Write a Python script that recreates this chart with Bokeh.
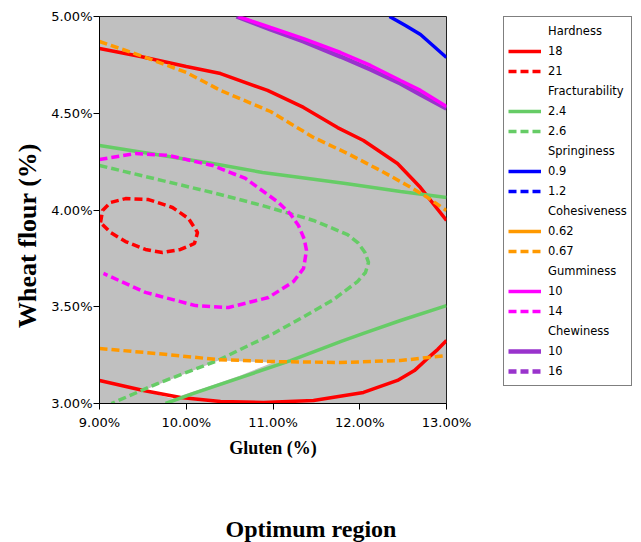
import math
from bokeh.plotting import figure
from bokeh.layouts import row, column
from bokeh.models import (Legend, LegendItem, FixedTicker, PrintfTickFormatter,
                          Range1d, Label)
from bokeh.embed import file_html
from bokeh.resources import INLINE

NAN = float("nan")

# ---------------- data (Gluten %, Wheat flour %) ----------------
x_ticks = [9.0, 10.0, 11.0, 12.0, 13.0]
y_ticks = [3.0, 3.5, 4.0, 4.5, 5.0]

# Hardness = 18 (two branches)
hard18_a_x = [9.0, 9.473, 10.0, 10.395, 10.937, 11.352, 11.744, 12.043, 12.435, 12.700, 13.0]
hard18_a_y = [4.835, 4.793, 4.742, 4.705, 4.618, 4.530, 4.426, 4.359, 4.240, 4.116, 3.946]
hard18_b_x = [9.0, 9.507, 9.934, 10.395, 10.890, 11.467, 12.043, 12.435, 12.630, 12.781, 12.900, 13.0]
hard18_b_y = [3.119, 3.067, 3.031, 3.010, 3.005, 3.016, 3.057, 3.119, 3.170, 3.233, 3.280, 3.326]
# Hardness = 21 (closed loop)
hard21_x = [9.012, 9.035, 9.127, 9.300, 9.565, 9.841, 10.026, 10.130, 10.095, 9.934,
            9.726, 9.530, 9.300, 9.127, 9.012]
hard21_y = [3.935, 3.997, 4.039, 4.059, 4.054, 4.013, 3.956, 3.884, 3.827, 3.796,
            3.780, 3.796, 3.837, 3.884, 3.935]

# Fracturability = 2.4 (two branches)
frac24_a_x = [9.0, 9.726, 10.303, 10.879, 11.317, 11.836, 12.470, 13.0]
frac24_a_y = [4.333, 4.282, 4.240, 4.194, 4.168, 4.137, 4.096, 4.065]
frac24_b_x = [9.761, 10.084, 10.625, 11.202, 11.778, 12.043, 12.470, 13.0]
frac24_b_y = [3.0, 3.052, 3.134, 3.222, 3.320, 3.362, 3.429, 3.506]
# Fracturability = 2.6
frac26_x = [9.0, 9.726, 10.303, 10.879, 11.467, 11.859, 11.980, 12.060, 12.101, 12.066,
            11.974, 11.697, 11.317, 11.006, 10.360, 9.669, 9.138]
frac26_y = [4.230, 4.152, 4.090, 4.023, 3.946, 3.873, 3.830, 3.780, 3.729, 3.677,
            3.630, 3.537, 3.439, 3.362, 3.222, 3.103, 3.0]

# Springiness = 0.9 (1.2 lies outside the plotted region)
spring09_x = [12.343, 12.527, 12.700, 13.0]
spring09_y = [5.0, 4.953, 4.907, 4.788]

# Cohesiveness = 0.67 two branches (0.62 lies outside the plotted region)
cohes067_a_x = [9.0, 9.473, 10.0, 10.395, 10.971, 11.467, 11.859, 12.239, 12.550, 12.781, 13.0]
cohes067_a_y = [4.871, 4.798, 4.711, 4.618, 4.509, 4.375, 4.292, 4.204, 4.127, 4.065, 3.997]
cohes067_b_x = [9.0, 9.669, 10.360, 10.971, 11.778, 12.470, 13.0]
cohes067_b_y = [3.284, 3.258, 3.227, 3.217, 3.212, 3.222, 3.248]

# Gumminess = 10 and 14
gum10_x = [10.602, 10.971, 11.352, 11.778, 12.124, 12.470, 12.700, 13.0]
gum10_y = [5.0, 4.943, 4.886, 4.814, 4.747, 4.669, 4.618, 4.535]
gum14_x = [9.0, 9.415, 9.795, 10.303, 10.683, 11.063, 11.200, 11.294, 11.360, 11.386, 11.352,
           11.236, 10.948, 10.487, 10.107, 9.530, 9.046]
gum14_y = [4.261, 4.292, 4.282, 4.230, 4.163, 4.039, 3.980, 3.920, 3.850, 3.791, 3.698,
           3.630, 3.548, 3.496, 3.506, 3.574, 3.672]

# Chewiness = 10 (16 lies outside the plotted region)
chew10_x = [10.579, 10.971, 11.352, 11.778, 12.124, 12.470, 12.700, 13.0]
chew10_y = [5.0, 4.933, 4.871, 4.793, 4.726, 4.654, 4.597, 4.525]

# Optimum (overlaid white) region
opt_x = [9.507, 9.934, 10.372, 10.683, 11.0, 10.625, 10.222, 9.841, 9.703]
opt_y = [3.067, 3.145, 3.222, 3.217, 3.212, 3.145, 3.083, 3.026, 3.041]

# legend: (group, [(level label, colour key, dashed?)])
legend_groups = [
    ("Hardness", [("18", "red", False), ("21", "red", True)]),
    ("Fracturability", [("2.4", "green", False), ("2.6", "green", True)]),
    ("Springiness", [("0.9", "blue", False), ("1.2", "blue", True)]),
    ("Cohesiveness", [("0.62", "orange", False), ("0.67", "orange", True)]),
    ("Gumminess", [("10", "magenta", False), ("14", "magenta", True)]),
    ("Chewiness", [("10", "purple", False), ("16", "purple", True)]),
]
x_title = "Gluten (%)"
y_title = "Wheat flour (%)"
caption_text = "Optimum region"

# ---------------- styles ----------------
COL = {"red": "#FF0000", "green": "#66CC66", "blue": "#0000FF",
       "orange": "#FF9900", "magenta": "#FF00FF", "purple": "#9933CC"}
DASH = "8 4"
LW = 3.5
SANS = "DejaVu Sans"
SERIF = "Liberation Serif"


def strip(w, h, top=0):
    f = figure(width=w, height=h, output_backend="svg", toolbar_location=None,
               title=None, x_range=Range1d(0, 1), y_range=Range1d(0, 1),
               x_axis_location=None, y_axis_location=None,
               min_border_left=0, min_border_right=0, min_border_top=top,
               min_border_bottom=0)
    f.grid.visible = False
    f.outline_line_color = None
    f.background_fill_color = "white"
    f.border_fill_color = "white"
    return f


# ---------------- y title strip ----------------
ylab = strip(45, 482)
ylab.add_layout(Label(x=27, y=168, x_units="screen", y_units="screen", angle=math.pi / 2,
                      text=y_title, text_font=SERIF, text_font_size="26px",
                      text_font_style="bold", text_color="black",
                      text_align="center", text_baseline="middle"))

# ---------------- main chart ----------------
p = figure(width=458, height=482, output_backend="svg", toolbar_location=None,
           title=None, x_range=Range1d(9, 13), y_range=Range1d(3, 5),
           min_border_left=54, min_border_right=57, min_border_top=16,
           min_border_bottom=79)
p.background_fill_color = "#C0C0C0"
p.border_fill_color = "white"
p.grid.visible = False
p.outline_line_color = "#222222"
p.outline_line_width = 1

for ax, ticks in ((p.xaxis, x_ticks), (p.yaxis, y_ticks)):
    ax.ticker = FixedTicker(ticks=ticks)
    ax.formatter = PrintfTickFormatter(format="%.2f%%")
    ax.minor_tick_line_color = None
    ax.major_tick_in = 0
    ax.major_tick_out = 6
    ax.major_tick_line_color = "black"
    ax.axis_line_color = "black"
    ax.major_label_text_font = SANS
    ax.major_label_text_font_size = "13px"
    ax.major_label_text_color = "black"

p.xaxis.axis_label = x_title
p.xaxis.axis_label_text_font = SERIF
p.xaxis.axis_label_text_font_style = "bold"
p.xaxis.axis_label_text_color = "black"
p.xaxis.axis_label_text_font_size = "18px"
p.xaxis.major_label_standoff = 5
p.xaxis.axis_label_standoff = 5
p.yaxis.major_label_standoff = 1

p.patch(opt_x, opt_y, fill_color="white", line_color=None)

p.multi_line([hard18_a_x, hard18_b_x], [hard18_a_y, hard18_b_y], line_color=COL["red"], line_width=LW)
p.line(hard21_x, hard21_y, line_color=COL["red"], line_width=LW, line_dash=DASH)
p.multi_line([frac24_a_x, frac24_b_x], [frac24_a_y, frac24_b_y], line_color=COL["green"], line_width=LW)
p.line(frac26_x, frac26_y, line_color=COL["green"], line_width=LW, line_dash=DASH)
p.line(spring09_x, spring09_y, line_color=COL["blue"], line_width=LW)
p.multi_line([cohes067_a_x, cohes067_b_x], [cohes067_a_y, cohes067_b_y],
             line_color=COL["orange"], line_width=LW, line_dash=DASH)
p.line(gum14_x, gum14_y, line_color=COL["magenta"], line_width=LW, line_dash=DASH)
p.line(chew10_x, chew10_y, line_color=COL["purple"], line_width=LW + 1)
p.line(gum10_x, gum10_y, line_color=COL["magenta"], line_width=LW)

# ---------------- legend panel ----------------
lg = strip(138, 482, top=12)

head = lg.line([NAN], [NAN], line_alpha=0)
items = []
for group, levels in legend_groups:
    items.append(LegendItem(label=group, renderers=[head]))
    for lab, ck, dashed in levels:
        r = lg.line([NAN], [NAN], line_color=COL[ck], line_width=LW + (1 if ck == "purple" else 0),
                    line_dash=DASH if dashed else "solid")
        items.append(LegendItem(label=lab, renderers=[r]))

legend = Legend(items=items, location="top_left", margin=0, padding=4,
                spacing=0, glyph_width=33, glyph_height=20, label_height=20,
                label_standoff=7, label_text_font=SANS, label_text_font_size="11.5px",
                label_text_color="black", border_line_color="black",
                border_line_width=1, background_fill_color="white",
                background_fill_alpha=1)
lg.add_layout(legend, "center")

# ---------------- caption ----------------
cap = strip(641, 60)
cap.add_layout(Label(x=225, y=1, x_units="screen", y_units="screen",
                     text=caption_text, text_font=SERIF, text_font_size="24px",
                     text_font_style="bold", text_color="black",
                     text_baseline="bottom"))

layout = column(row(ylab, p, lg, spacing=0), cap, spacing=0)
open("out.html", "w").write(file_html(layout, INLINE))
